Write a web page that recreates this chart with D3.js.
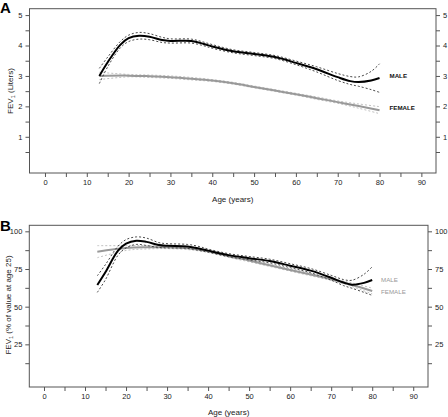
<!DOCTYPE html>
<html><head><meta charset="utf-8">
<script src="https://cdn.jsdelivr.net/npm/d3@7"></script>
<style>body{margin:0;background:#fff}svg{display:block;font-family:"Liberation Sans",Arial,sans-serif}</style>
</head><body><svg id="c" width="448" height="417"></svg>
<script>
// Panel A: FEV1 (Liters)
const maleAgesA = [13,15,18,20,22.5,25,28,30,35,38,40,45,50,55,60,65,70,73,75,78,80];
const maleA     = [3.00,3.45,4.02,4.24,4.32,4.29,4.18,4.15,4.15,4.05,3.97,3.81,3.72,3.62,3.43,3.22,2.96,2.83,2.80,2.85,2.93];
const maleAUp   = [3.25,3.62,4.13,4.34,4.43,4.39,4.27,4.22,4.21,4.11,4.03,3.86,3.77,3.67,3.49,3.30,3.08,2.98,2.97,3.15,3.40];
const maleALo   = [2.75,3.30,3.92,4.13,4.21,4.19,4.10,4.08,4.08,3.99,3.91,3.76,3.67,3.57,3.37,3.13,2.85,2.72,2.66,2.55,2.46];
const femAgesA  = [13,20,25,30,35,40,45,50,55,60,65,70,75,80];
const femA      = [3.00,3.01,2.99,2.96,2.91,2.85,2.76,2.64,2.52,2.40,2.27,2.14,2.01,1.87];
const femAUp    = [3.12,3.05,3.03,3.00,2.95,2.88,2.79,2.67,2.55,2.43,2.31,2.18,2.08,1.99];
const femALo    = [2.88,2.97,2.95,2.92,2.87,2.82,2.73,2.61,2.49,2.37,2.23,2.10,1.94,1.76];
// Panel B: FEV1 (% of value at age 25)
const maleAgesB = [13,15,18,20,22.5,25,28,30,35,38,40,45,50,55,60,65,70,73,75,78,80];
const maleB     = [64.4,73,87,91.8,93.8,93.0,90.9,90.4,90.0,88.5,87.2,84.2,82.2,80.3,77.2,73.9,69.2,66.0,64.6,65.8,67.7];
const maleBUp   = [70.5,78,90,94.5,96.3,95.5,92.5,91.8,91.3,89.8,88.2,85.2,83.3,81.5,78.5,75.3,70.8,68.0,67.5,71.5,76.5];
const maleBLo   = [59.5,68,84,89,91.3,90.6,89.3,89.0,88.7,87.2,86.2,83.2,81.1,79.1,75.9,72.5,67.6,64.0,62.3,59.5,57.5];
const femAgesB  = [13,20,25,30,35,40,45,50,55,60,65,70,75,80];
const femB      = [86.5,88.9,89.4,89.4,88.7,86.8,83.5,80.6,77.5,74.4,71.3,68.2,64.6,60.4];
const femBUp    = [90.5,90.5,90.6,90.3,89.5,87.6,84.3,81.4,78.3,75.2,72.1,69.0,65.8,62.3];
const femBLo    = [82.5,87.3,88.3,88.5,87.9,86.0,82.7,79.8,76.7,73.6,70.5,67.4,63.4,58.5];
const xTickLabels = [0,10,20,30,40,50,60,70,80,90];
const yTicksA = [1,2,3,4,5];
const yTicksB = [25,50,75,100];

const svg = d3.select("#c");
const boxColor = "#555";

function panel(cfg){
  const g = svg.append("g");
  const x = d3.scaleLinear().domain(cfg.xd).range([cfg.l, cfg.r]);
  const y = d3.scaleLinear().domain(cfg.yd).range([cfg.b, cfg.t]);
  const xa = d3.axisBottom(x).tickValues(d3.range(0, 90.1, 5)).tickSize(4).tickPadding(3)
     .tickFormat(d => xTickLabels.includes(d) ? d : "");
  g.append("g").attr("transform", `translate(0,${cfg.b})`).call(xa);
  const ya = d3.axisLeft(y).tickValues(cfg.minor).tickSize(4).tickPadding(3)
     .tickFormat(d => cfg.major.includes(d) ? d : "");
  g.append("g").attr("transform", `translate(${cfg.l},0)`).call(ya);
  const yr = d3.axisRight(y).tickValues(cfg.minor).tickSize(4).tickPadding(3)
     .tickFormat(d => cfg.major.includes(d) ? d : "");
  g.append("g").attr("transform", `translate(${cfg.r},0)`).call(yr);
  g.selectAll(".domain").remove();
  g.selectAll(".tick line").attr("stroke", boxColor);
  g.selectAll(".tick text").attr("font-size", 7.5).attr("fill", "#222").attr("font-family", "Liberation Sans, Arial, sans-serif");
  g.append("rect").attr("x", cfg.l).attr("y", cfg.t).attr("width", cfg.r - cfg.l).attr("height", cfg.b - cfg.t)
    .attr("fill", "none").attr("stroke", boxColor).attr("stroke-width", 1);

  const line = (ages, vals) => d3.line().x((d,i) => x(ages[i])).y(d => y(d)).curve(d3.curveCatmullRom.alpha(0.5))(vals);
  [cfg.fUp, cfg.fLo].forEach(v => g.append("path").attr("d", line(cfg.fAges, v)).attr("fill","none")
     .attr("stroke","#bbb").attr("stroke-width",0.9).attr("stroke-dasharray","2,2"));
  g.append("path").attr("d", line(cfg.fAges, cfg.f)).attr("fill","none").attr("stroke","#999").attr("stroke-width",2);
  [cfg.mUp, cfg.mLo].forEach(v => g.append("path").attr("d", line(cfg.mAges, v)).attr("fill","none")
     .attr("stroke","#333").attr("stroke-width",0.9).attr("stroke-dasharray","2,2"));
  g.append("path").attr("d", line(cfg.mAges, cfg.m)).attr("fill","none").attr("stroke","#000").attr("stroke-width",2);

  g.append("text").attr("x", cfg.labX).attr("y", cfg.maleY).attr("font-size", 6.2).attr("font-weight", cfg.labW)
    .attr("fill", cfg.labC).text("MALE");
  g.append("text").attr("x", cfg.labX).attr("y", cfg.femY).attr("font-size", 6.2).attr("font-weight", cfg.labW)
    .attr("fill", cfg.labC).text("FEMALE");

  g.append("text").attr("x", (cfg.l + cfg.r)/2).attr("y", cfg.xTitleY).attr("text-anchor","middle")
    .attr("font-size", 8).attr("fill","#222").text("Age (years)");
  const yt = g.append("text").attr("transform", `translate(${cfg.yTitleX},${cfg.yTitleCY}) rotate(-90)`)
    .attr("text-anchor","middle").attr("font-size", 8).attr("fill","#222");
  yt.append("tspan").text("FEV");
  yt.append("tspan").attr("font-size", 5.5).attr("dy", 2).text("1");
  yt.append("tspan").attr("dy", -2).text(cfg.yTitleRest);
  g.append("text").attr("x", 0).attr("y", cfg.letterY).attr("font-size", 15).attr("font-weight","bold").text(cfg.letter);
}

panel({l:29.5, r:436, t:8.7, b:173, xd:[-3.7,93.5], yd:[-0.19,5.21],
  minor:d3.range(0.5,5.01,0.5), major:yTicksA,
  mAges:maleAgesA, m:maleA, mUp:maleAUp, mLo:maleALo,
  fAges:femAgesA, f:femA, fUp:femAUp, fLo:femALo,
  labX:389.5, maleY:77.8, femY:109.8, labW:"bold", labC:"#111",
  xTitleY:201.5, yTitleX:13, yTitleCY:91, yTitleRest:" (Liters)", letter:"A", letterY:12.5});

panel({l:29.3, r:428, t:225.3, b:387, xd:[-3.58,93.6], yd:[-3.3,104.0],
  minor:d3.range(12.5,100.1,12.5), major:yTicksB,
  mAges:maleAgesB, m:maleB, mUp:maleBUp, mLo:maleBLo,
  fAges:femAgesB, f:femB, fUp:femBUp, fLo:femBLo,
  labX:381, maleY:281.5, femY:293.8, labW:"normal", labC:"#999",
  xTitleY:414.5, yTitleX:11, yTitleCY:305, yTitleRest:" (% of value at age 25)", letter:"B", letterY:230.5});
</script></body></html>
